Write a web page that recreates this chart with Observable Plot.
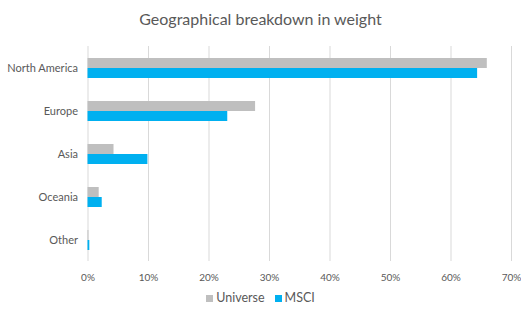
<!DOCTYPE html>
<html>
<head>
<meta charset="utf-8">
<script src="https://cdn.jsdelivr.net/npm/d3@7"></script>
<script src="https://cdn.jsdelivr.net/npm/@observablehq/plot@0.6"></script>
<style>
  html, body { margin: 0; padding: 0; background: #fff; }
  #wrap { position: relative; width: 521px; height: 309px; overflow: hidden; font-family: Lato, "Open Sans", sans-serif; color: #595959; }
  #title { position: absolute; left: 0; top: 9px; width: 521px; text-align: center; font-size: 16px; line-height: 20px; }
  #chart { position: absolute; left: 0; top: 0; }
  #legend { position: absolute; left: 0; top: 290px; width: 521px; text-align: center; font-size: 12.5px; line-height: 15px; }
  #legend span.sw { display: inline-block; width: 7px; height: 7px; margin-right: 3px; vertical-align: 0px; }
  #legend span.item { display: inline-block; margin: 0 5px; }
</style>
</head>
<body>
<div id="wrap">
  <div id="chart"></div>
  <div id="title">Geographical breakdown in weight</div>
  <div id="legend"></div>
</div>
<script>
const categories = ["North America", "Europe", "Asia", "Oceania", "Other"];
const seriesNames = ["Universe", "MSCI"];
const universe = [66.0, 27.7, 4.3, 1.85, 0.15];
const msci = [64.4, 23.1, 9.9, 2.35, 0.3];
const xTicks = [0, 10, 20, 30, 40, 50, 60, 70];
const colors = ["#BFBFBF", "#00B0F0"];

const data = [];
categories.forEach((c, i) => {
  data.push({category: c, series: "Universe", value: universe[i]});
  data.push({category: c, series: "MSCI", value: msci[i]});
});

const chart = Plot.plot({
  width: 521,
  height: 309,
  marginTop: 44,
  marginBottom: 46.5,
  marginLeft: 87.5,
  marginRight: 10,
  style: {fontFamily: "Lato, 'Open Sans', sans-serif", color: "#595959", background: "transparent"},
  x: {domain: [0, 70], ticks: xTicks, tickFormat: d => d + "%", axis: null},
  fy: {domain: categories, padding: 0, label: null, axis: null},
  y: {domain: seriesNames, paddingInner: 0, paddingOuter: 1.08, axis: null},
  color: {domain: seriesNames, range: colors},
  marks: [
    Plot.ruleX(xTicks, {stroke: "#D9D9D9", strokeWidth: 1}),
    Plot.barX(data, {fy: "category", y: "series", x: "value", fill: "series"}),
    Plot.axisFy({anchor: "left", tickSize: 0, tickPadding: 10, fontSize: 11, label: null, fill: "#595959"}),
    Plot.axisX({anchor: "bottom", ticks: xTicks, tickFormat: d => d + "%", tickSize: 0, tickPadding: 12, fontSize: 10, label: null, fill: "#595959"})
  ]
});
document.getElementById("chart").appendChild(chart);

const legend = document.getElementById("legend");
seriesNames.forEach((s, i) => {
  const item = document.createElement("span");
  item.className = "item";
  const sw = document.createElement("span");
  sw.className = "sw";
  sw.style.background = colors[i];
  item.appendChild(sw);
  item.appendChild(document.createTextNode(s));
  legend.appendChild(item);
});
</script>
</body>
</html>
